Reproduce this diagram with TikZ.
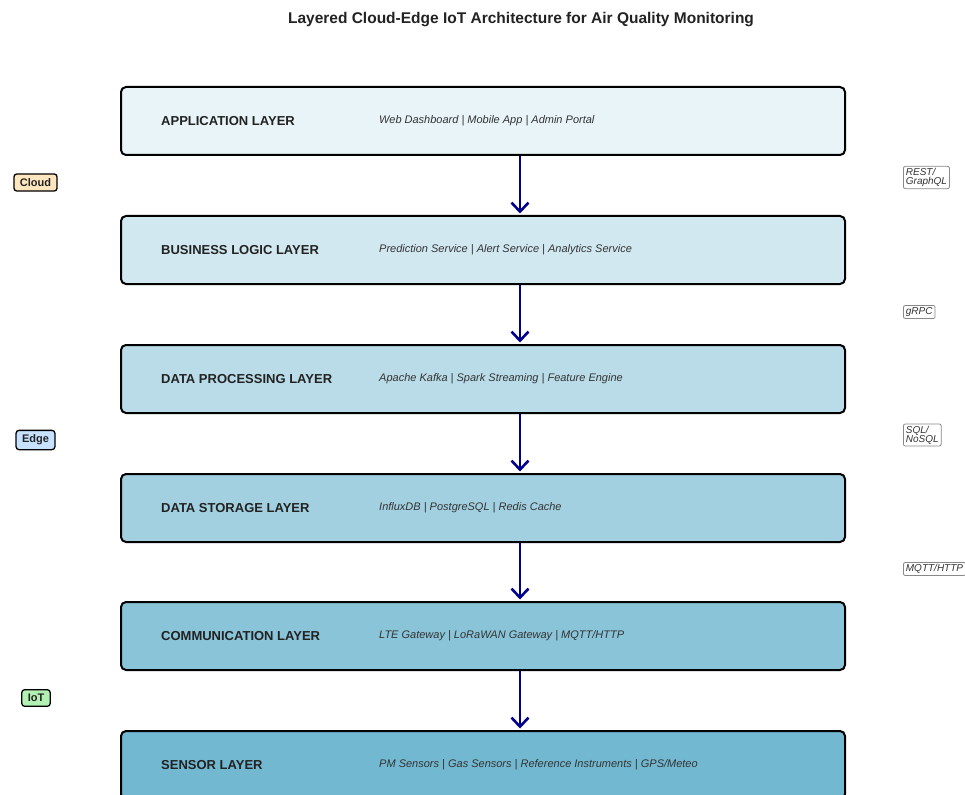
\documentclass[tikz,border=0pt]{standalone}
\usepackage{fontspec}
\setmainfont{Liberation Sans}
\usetikzlibrary{arrows.meta}
\definecolor{c1}{HTML}{E8F4F8}
\definecolor{c2}{HTML}{D1E8F1}
\definecolor{c3}{HTML}{B9DCE8}
\definecolor{c4}{HTML}{A2D0E0}
\definecolor{c5}{HTML}{8AC4D8}
\definecolor{c6}{HTML}{72B8D0}
\definecolor{arrowblue}{HTML}{00008B}
\definecolor{cloudc}{HTML}{FFE6BF}
\definecolor{edgec}{HTML}{C6E2FF}
\definecolor{iotc}{HTML}{B3F0B3}
\definecolor{protoc}{HTML}{888888}
\definecolor{txt}{HTML}{222222}
\definecolor{txtlight}{HTML}{333333}
\begin{document}
\begin{tikzpicture}[x=1pt,y=-1pt,
  layerbox/.style={draw=black,line width=2pt,rounded corners=5pt,minimum width=724pt,minimum height=68pt,inner sep=0pt},
  lname/.style={anchor=west,inner sep=0pt,font=\bfseries\fontsize{13}{15}\selectfont,text=txt},
  ldetail/.style={anchor=west,inner sep=0pt,font=\itshape\fontsize{11}{13}\selectfont,text=txtlight},
  flow/.style={draw=arrowblue,line width=2.6pt,-{Straight Barb[length=9pt,width=17pt,line width=2.6pt]}},
  tierlab/.style={draw=black,line width=1.3pt,rounded corners=3pt,inner xsep=6pt,inner ysep=4.5pt,font=\bfseries\fontsize{11}{12}\selectfont,text=txt},
  proto/.style={draw=protoc,line width=0.8pt,rounded corners=2pt,fill=white,inner xsep=2.5pt,inner ysep=2pt,font=\itshape\fontsize{10}{9}\selectfont,text=txtlight,align=left,anchor=west}
]
\clip (0,0) rectangle (965,794);
\fill[white] (0,0) rectangle (965,794);
\node[font=\bfseries\fontsize{15.5}{17}\selectfont,text=txt] (title) at (521,20) {Layered Cloud-Edge IoT Architecture for Air Quality Monitoring};

\node[layerbox,fill=c1] (L1) at (483,121) {};
\node[layerbox,fill=c2] (L2) at (483,250) {};
\node[layerbox,fill=c3] (L3) at (483,379) {};
\node[layerbox,fill=c4] (L4) at (483,508) {};
\node[layerbox,fill=c5] (L5) at (483,636) {};
\node[layerbox,fill=c6] (L6) at (483,765) {};

\node[lname] (n1) at (161,121) {APPLICATION LAYER};
\node[lname] (n2) at (161,250) {BUSINESS LOGIC LAYER};
\node[lname] (n3) at (161,379) {DATA PROCESSING LAYER};
\node[lname] (n4) at (161,508) {DATA STORAGE LAYER};
\node[lname] (n5) at (161,636) {COMMUNICATION LAYER};
\node[lname] (n6) at (161,765) {SENSOR LAYER};

\node[ldetail] (d1) at (379,121) {Web Dashboard | Mobile App | Admin Portal};
\node[ldetail] (d2) at (379,250) {Prediction Service | Alert Service | Analytics Service};
\node[ldetail] (d3) at (379,379) {Apache Kafka | Spark Streaming | Feature Engine};
\node[ldetail] (d4) at (379,508) {InfluxDB | PostgreSQL | Redis Cache};
\node[ldetail] (d5) at (379,636) {LTE Gateway | LoRaWAN Gateway | MQTT/HTTP};
\node[ldetail] (d6) at (379,765) {PM Sensors | Gas Sensors | Reference Instruments | GPS/Meteo};

\draw[flow] (L1.south -| 520,0) -- ([yshift=1.5pt]L2.north -| 520,0);
\draw[flow] (L2.south -| 520,0) -- ([yshift=1.5pt]L3.north -| 520,0);
\draw[flow] (L3.south -| 520,0) -- ([yshift=1.5pt]L4.north -| 520,0);
\draw[flow] (L4.south -| 520,0) -- ([yshift=1.5pt]L5.north -| 520,0);
\draw[flow] (L5.south -| 520,0) -- ([yshift=1.5pt]L6.north -| 520,0);

\node[tierlab,fill=cloudc] (cloud) at (35.5,182.5) {Cloud};
\node[tierlab,fill=edgec] (edge) at (35.5,440) {Edge};
\node[tierlab,fill=iotc] (iot) at (36,698) {IoT};

\node[proto] (p1) at (903,177.5) {REST/\\GraphQL};
\node[proto] (p2) at (903,312) {gRPC};
\node[proto] (p3) at (903,435) {SQL/\\NoSQL};
\node[proto] (p4) at (903,569) {MQTT/HTTP};
\end{tikzpicture}
\end{document}
